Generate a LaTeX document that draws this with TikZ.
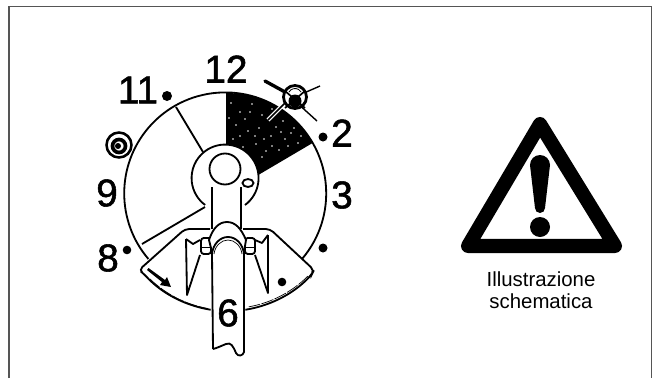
\documentclass[tikz,border=0pt]{standalone}
\usepackage{fontspec}
\setmainfont{Liberation Sans}
\newfontfamily\hourfont[FakeBold=1.4]{Liberation Sans}
\definecolor{framegray}{HTML}{555555}
\tikzset{
  hourlabel/.style={inner sep=0pt,font=\hourfont\fontsize{27.5}{27.5}\selectfont},
  captionlabel/.style={inner sep=0pt,align=center,font=\fontsize{14.5}{15.6}\selectfont},
  outline/.style={black,line width=1.3pt},
  hourdot/.style={fill=black},
}
\begin{document}
\begin{tikzpicture}[x=0.25mm,y=-0.25mm]
    \useasboundingbox (0,0) rectangle (659,378);
    \draw[framegray,line width=1pt] (9,378) -- (9,6.5) -- (651.5,6.5) -- (651.5,378);
    % dial
    \fill[black] (226,194) -- (226,93) arc[start angle=-90,end angle=-30.5,radius=101] -- cycle;
    \foreach \px/\py in {231/103,240/112,252/104,262/115,272/109,236/125,248/131,259/128,271/136,283/121,291/133,298/143,233/139,243/147,256/144,266/151,279/150,288/146,301/136,276/127,264/139,229/118,245/119,255/136,285/139,272/146,262/157,281/132,240/136,294/128,250/112}
      \fill[white] (\px,\py) circle[radius=0.9];
    \draw[outline] (302,259) arc[start angle=40.5,end angle=-220.5,radius=101];
    \draw[outline] (176,107) -- (203,152);
    \draw[outline] (142,244) -- (205,207);
    \draw[outline,fill=white] (245,205) arc[start angle=53.5,end angle=-233.5,radius=33.5];
    \draw[outline] (225,169) circle[radius=15.5];
    \draw[outline] (248,183) ellipse[x radius=5.5,y radius=4];
    \draw[outline] (212,187) -- (212,229);
    \draw[outline] (241,187) -- (241,229);
    % fan
    \fill[white] (185,229) -- (270,229) -- (313,272) arc[start angle=42.6,end angle=137.4,radius=115] -- cycle;
    \draw[outline,rounded corners=3pt] (210,229) -- (185,229) -- (139,270) -- (144,274) arc[start angle=137.4,end angle=99,radius=115];
    \draw[outline,rounded corners=3pt] (243,229) -- (270,229) -- (314,270) -- (312,274) arc[start angle=42.6,end angle=81,radius=115];
    \draw[black,line width=0.5pt,dash pattern=on 9pt off 1pt] (150,279) arc[start angle=134,end angle=100,radius=111];
    \draw[black,line width=0.5pt,dash pattern=on 9pt off 1pt] (308,276) arc[start angle=45,end angle=80,radius=111];
    % fork
    \draw[outline,line join=round] (186,239) -- (193,244) -- (200,240) (200,255) -- (187,295) -- (186,239);
    \draw[outline,line join=round] (268,235) -- (262,243) -- (255,240) (255,255) -- (268,293) -- (268,235);
    \draw[outline,rounded corners=2pt] (201,238) rectangle (211,254);
    \draw[outline,rounded corners=2pt] (245,238) rectangle (255,254);
    \draw[black,line width=0.5pt] (201,247) -- (211,247) (245,247) -- (255,247);
    % rod
    \draw[outline,fill=white] (209,240) .. controls (213,228) and (219,222) .. (227,222) .. controls (235,222) and (241,228) .. (246,240) -- (244,252) -- (212,252) -- cycle;
    \draw[outline,fill=white] (213,349) -- (212,254) .. controls (213,244) and (220,237) .. (228,237) .. controls (236,237) and (243,244) .. (244,254) -- (244,352) .. controls (243,356) and (238,357) .. (236,353) .. controls (233,346) and (231,342) .. (226,344) .. controls (221,346) and (217,348) .. (213,349);
    \draw[black,line width=0.5pt] (214,254) .. controls (215,246) and (221,240) .. (228,240) .. controls (235,240) and (241,246) .. (242,254);
    % arrow
    \fill[black] (147,270) -- (148.5,268) -- (165,280) -- (167,277) -- (171,287) -- (160,285) -- (162,282) -- cycle;
    % dots
    \fill[hourdot] (167,96) circle[radius=5];
    \fill[hourdot] (323,137) circle[radius=4.5];
    \fill[hourdot] (127,250) circle[radius=4.3];
    \fill[hourdot] (323,248) circle[radius=4.5];
    \fill[hourdot] (282,282) circle[radius=4.3];
    % crossed mark
    \draw[black,line width=2.4pt,line cap=round] (265,81) -- (285,92);
    \draw[black,line width=1pt] (285,92) -- (317,121);
    \draw[black,line width=1pt] (304,93) -- (320,86);
    \draw[white,line width=2.8pt] (268,120) -- (285,103);
    \draw[black,line width=1.2pt,line cap=round] (268,120) -- (285,103);
    \draw[black,line width=2pt,fill=white] (295,97) circle[radius=11.5];
    \fill[black] (295,101) circle[radius=6.5];
    \draw[black,line width=1.2pt] (285,91) -- (305,108) (305,91) -- (285,108);
    \draw[black,line width=0.6pt] (289,92) arc[start angle=-150,end angle=-30,radius=7];
    % other mark
    \draw[black,line width=1.8pt] (119,145) circle[radius=12.5];
    \draw[black,line width=2.6pt] (119,146) circle[radius=6.5];
    \fill[black] (118,146) circle[radius=3];
    % hours
    \node[hourlabel] (hour12) at (226,69) {12};
    \node[hourlabel] (hour11) at (138,90) {11};
    \node[hourlabel] (hour2) at (342,133) {2};
    \node[hourlabel] (hour9) at (107,193) {9};
    \node[hourlabel] (hour3) at (342,195) {3};
    \node[hourlabel] (hour8) at (108,258) {8};
    \node[hourlabel] (hour6) at (228,313) {6};
    % warning sign
    \draw[black,line width=10pt,line join=round] (540,124) -- (615,246) -- (468,246) -- cycle;
    \fill[black] (530,165) arc[start angle=180,end angle=360,radius=10] -- (545,208) arc[start angle=0,end angle=180,radius=5] -- cycle;
    \fill[black] (540,227) circle[radius=10];
    \node[captionlabel] (caption) at (541,290) {Illustrazione\\schematica};
  \end{tikzpicture}
\end{document}
